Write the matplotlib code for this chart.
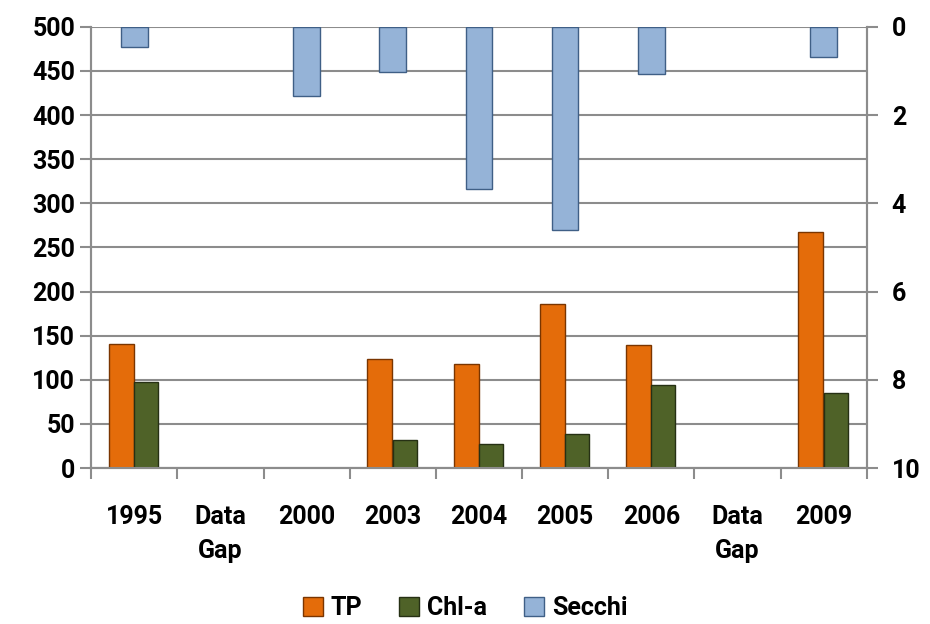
import numpy as np
import matplotlib.pyplot as plt

# data
years = ['1995', 'Data\nGap', '2000', '2003', '2004', '2005', '2006', 'Data\nGap', '2009']
tp = [141, np.nan, np.nan, 124, 118, 186, 139, np.nan, 267]
chla = [97, np.nan, np.nan, 32, 27, 39, 94, np.nan, 85]
secchi = [0.45, np.nan, 1.57, 1.02, 3.68, 4.6, 1.07, np.nan, 0.68]

plt.rcParams['font.family'] = ['Roboto', 'DejaVu Sans']
plt.rcParams['font.weight'] = 'bold'

fig = plt.figure(figsize=(9.3, 6.24), dpi=100)
ax = fig.add_subplot(111)
fig.subplots_adjust(left=0.098, right=0.932, top=0.957, bottom=0.25)
x = np.arange(len(years))

ax.set_axisbelow(True)
ax.grid(axis='y', color='#8c8c8c', lw=1.5)
b1 = ax.bar(x - 0.15, tp, 0.29, color='#E46C0A', edgecolor='#7a3500', lw=1, label='TP', zorder=3)
b2 = ax.bar(x + 0.14, chla, 0.28, color='#4F6228', edgecolor='#263014', lw=1, label='Chl-a', zorder=3)
ax.set_ylim(0, 500)
ax.set_yticks(range(0, 501, 50))
ax.set_xlim(-0.5, len(years) - 0.5)
ax.set_xticks(x)
ax.set_xticklabels(years, fontsize=18, fontweight='bold', linespacing=1.5)
ax.set_xticks(np.arange(-0.5, len(years)), minor=True)
ax.tick_params(axis='x', which='major', length=0, pad=27)
ax.tick_params(axis='x', which='minor', length=8, width=1.5, color='#8c8c8c')
ax.tick_params(axis='y', labelsize=18, length=8, width=1.5, color='#8c8c8c')

ax2 = ax.twinx()
b3 = ax2.bar(x, secchi, 0.31, color='#95B3D7', edgecolor='#3f5f86', lw=1, label='Secchi', zorder=3)
ax2.set_ylim(10, 0)
ax2.set_yticks(range(0, 11, 2))
ax2.tick_params(axis='y', labelsize=18, length=8, width=1.5, color='#8c8c8c', pad=10)

for a in (ax, ax2):
    for s in a.spines.values():
        s.set_color('#8c8c8c')
        s.set_linewidth(1.5)
    a.spines['top'].set_visible(False)
    for lab in a.get_yticklabels():
        lab.set_fontweight('bold')

fig.legend([b1, b2, b3], ['TP', 'Chl-a', 'Secchi'], loc='lower center',
           bbox_to_anchor=(0.5, -0.03), ncol=3, frameon=False, fontsize=18,
           handlelength=0.8, handleheight=0.8, handletextpad=0.3, columnspacing=1.5)

plt.savefig('out.png', dpi=100)
